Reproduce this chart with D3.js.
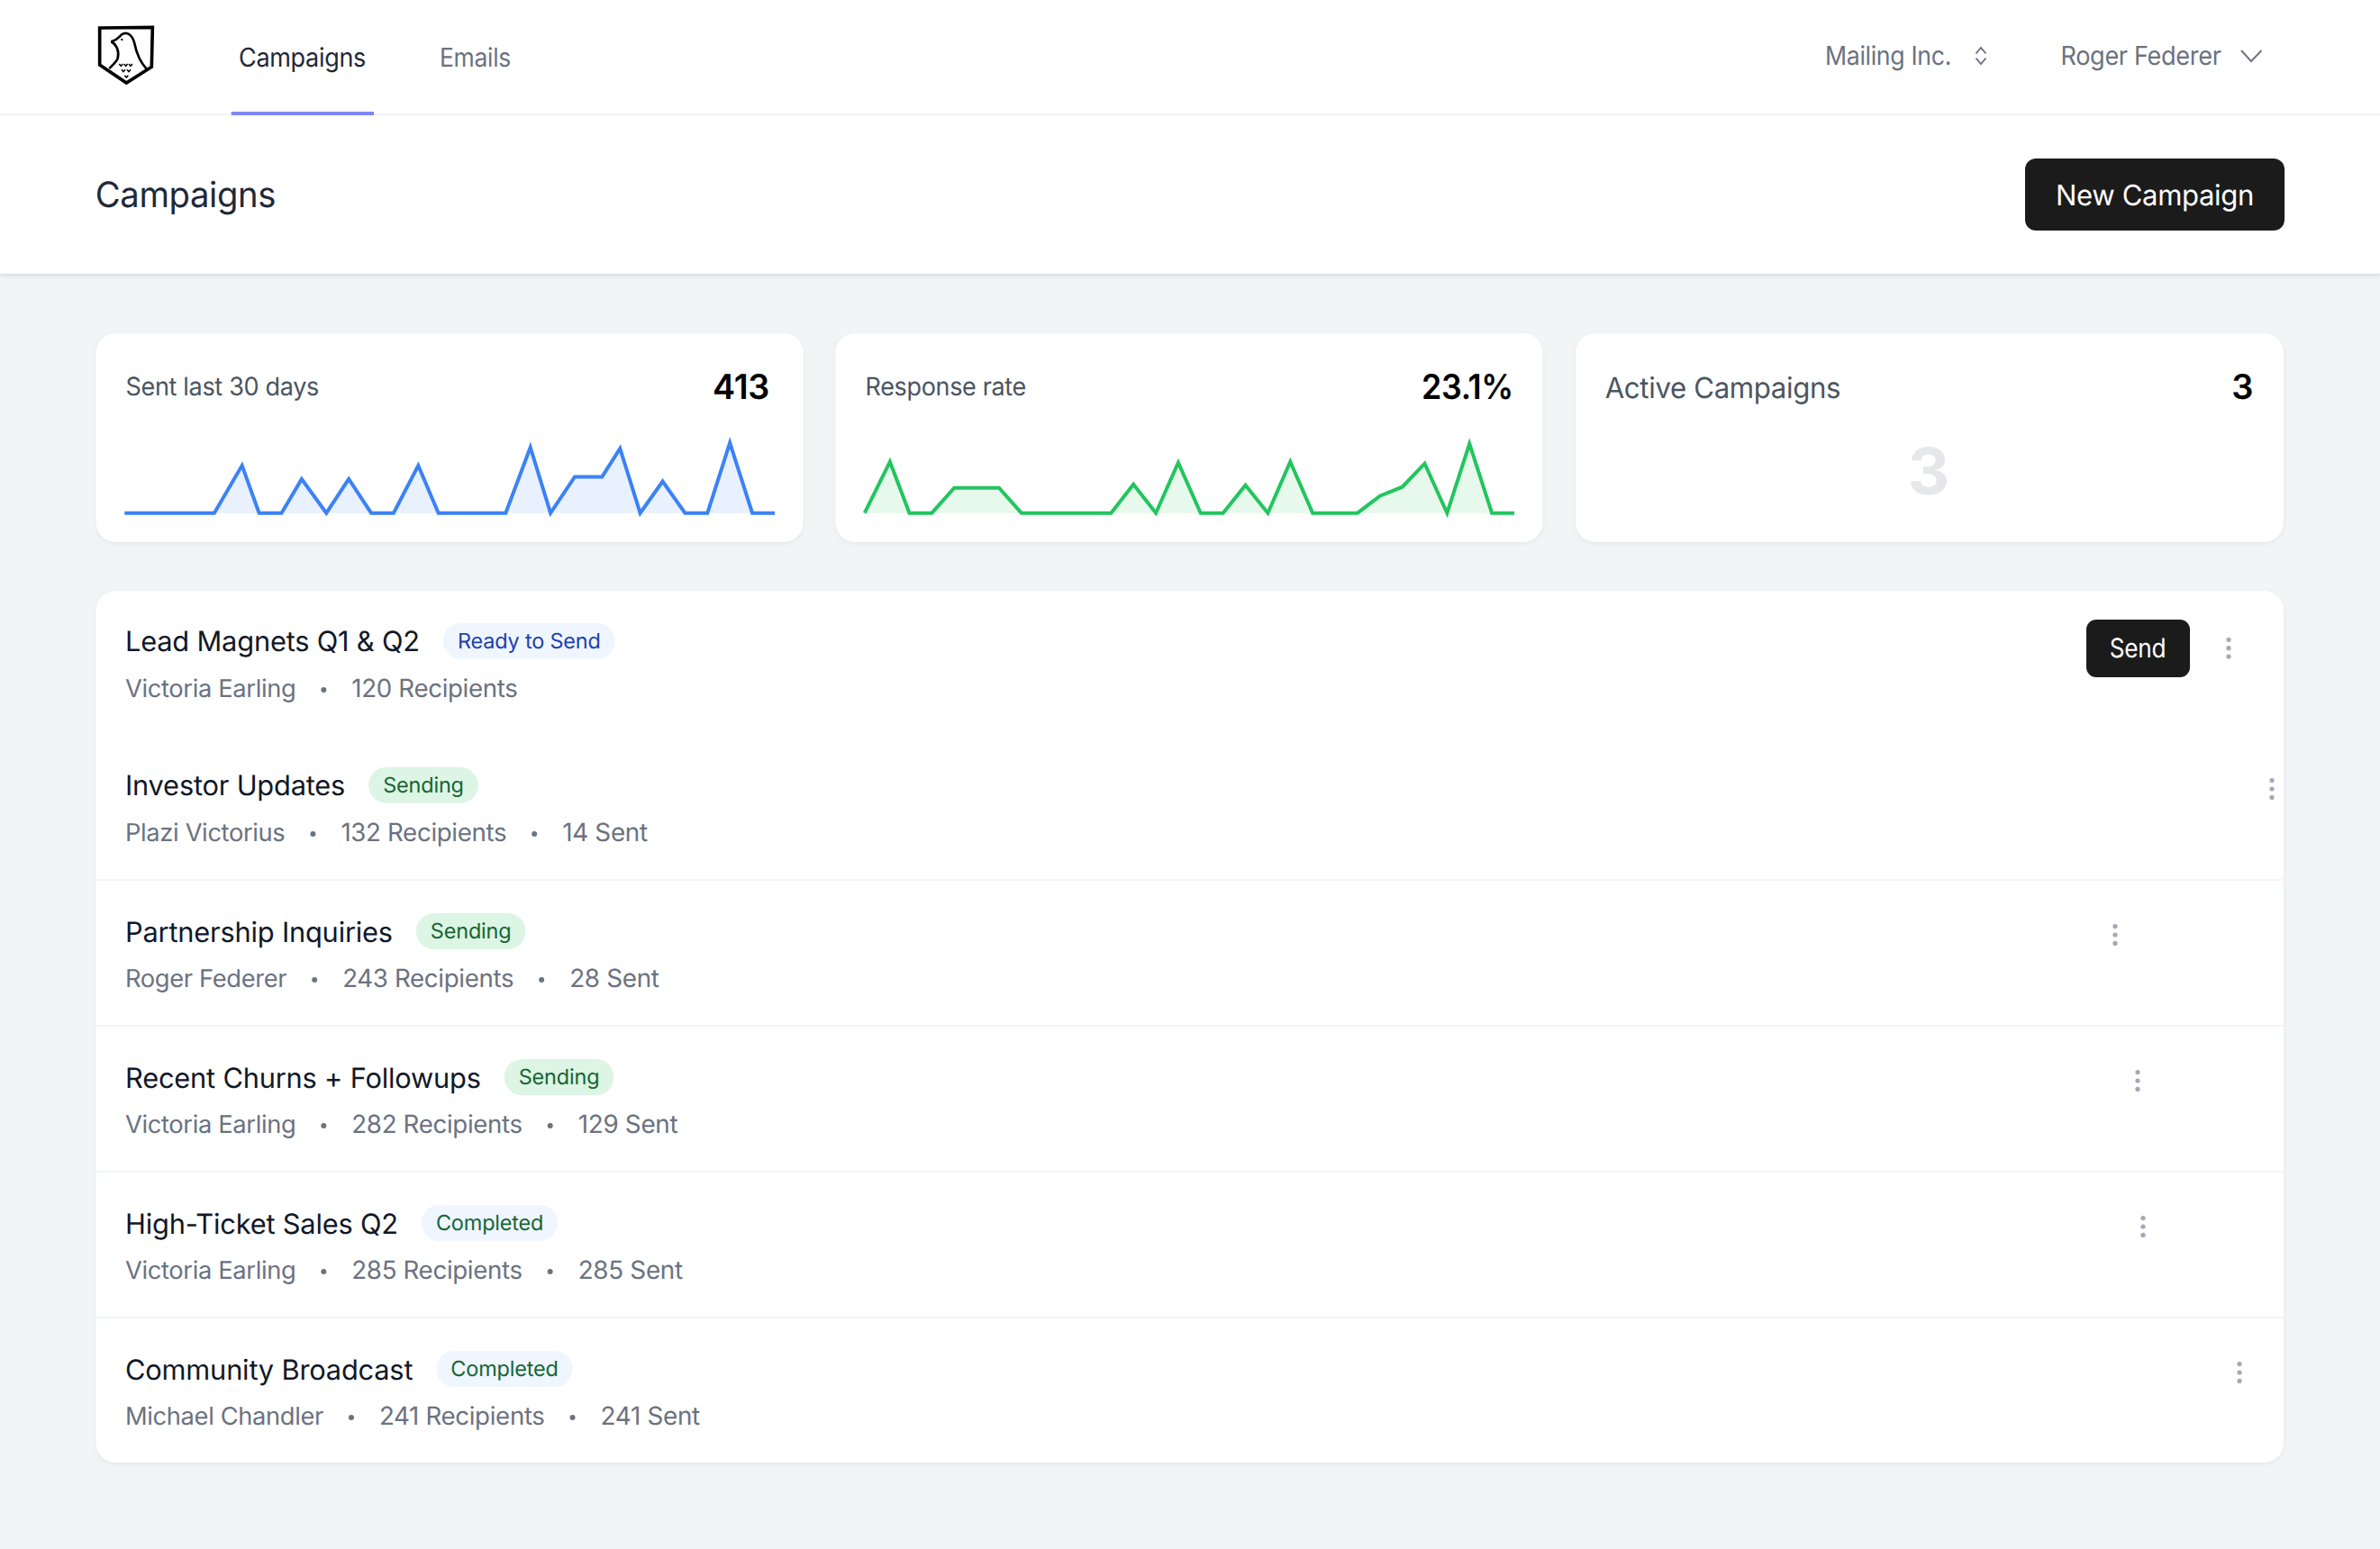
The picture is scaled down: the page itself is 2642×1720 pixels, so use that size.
<!DOCTYPE html>
<html><head><meta charset="utf-8">
<script src="https://cdn.jsdelivr.net/npm/d3@7"></script>
<style>html,body{margin:0;padding:0;background:#f1f5f6}svg{display:block}text{font-family:Inter,"Noto Sans",sans-serif;text-rendering:geometricPrecision}</style>
</head><body><div id="app"></div>
<script>
// ---- data ----
const navLinks = ["Campaigns", "Emails"];
const pageTitle = "Campaigns";
const newButton = "New Campaign";
const orgName = "Mailing Inc.";
const userName = "Roger Federer";
const statLabels = ["Sent last 30 days", "Response rate", "Active Campaigns"];
const statValues = ["413", "23.1%", "3"];
const sentDays = [0,1,2,3,4,5.24,6,7,7.9,9,10,11,12,13.1,14,15,16,17,18.1,19,20.08,21.3,22.1,23,24,25,26,27,28,29];
const sentValues = [0,0,0,0,0,42,0,0,30,0,30,0,0,42,0,0,0,0,58,0,32,32,57,0,28,0,0,62,0,0];
const responseDays = [0,1.13,2,3,4,5,6,7,8,9,10,11,12,13,14,15,16,17,18,19,20,21,22,23,24,25,26,27,28,29];
const responseValues = [0,28.5,0,0,14,14,14,0,0,0,0,0,16,0,28,0,0,15.5,0,28.5,0,0,0,9.5,14.5,27.5,0,38.5,0,0];
const campaignNames = ["Lead Magnets Q1 & Q2","Investor Updates","Partnership Inquiries","Recent Churns + Followups","High-Ticket Sales Q2","Community Broadcast"];
const campaignStatus = ["Ready to Send","Sending","Sending","Sending","Completed","Completed"];
const campaignOwners = ["Victoria Earling","Plazi Victorius","Roger Federer","Victoria Earling","Victoria Earling","Michael Chandler"];
const campaignRecipients = [120,132,243,282,285,241];
const campaignSent = [null,14,28,129,285,241];

// ---- layout ----
const W = 2642, H = 1720;
const rowTitleY = [723.3,883.3,1045.5,1207.5,1369.5,1531.5];
const rowSubY = [774,934,1096,1258,1420,1582];
const menuX = [2474,2522,2348,2373,2379,2486];
const menuY = [719.7,876,1038,1200,1362,1524];
const statusStyle = {"Ready to Send":["#eff6ff","#1e40af"],"Sending":["#dcf5e4","#166534"],"Completed":["#eff6ff","#166534"]};
const F = {nav:29,title:39,btn:31.5,stat:28,statLg:32,num:38,row:30.8,sub:[27.3,27.7,27.9],badge:23.5};

const svg = d3.select("#app").append("svg").attr("width",W).attr("height",H).attr("viewBox",`0 0 ${W} ${H}`);
const defs = svg.append("defs");
const shadow = (id,dy,sd,op)=>{const f=defs.append("filter").attr("id",id).attr("x","-5%").attr("y","-10%").attr("width","110%").attr("height","125%");
  f.append("feDropShadow").attr("dx",0).attr("dy",dy).attr("stdDeviation",sd).attr("flood-color","#000").attr("flood-opacity",op);};
shadow("card",2,2.5,0.05); shadow("bar",1.5,2.5,0.14);

function text(p,s,x,y,size,fill,o={}){
  const t=p.append("text").attr("x",x).attr("y",y).attr("font-size",size).attr("fill",fill)
    .attr("font-weight",o.w||400).attr("text-anchor",o.a||"start").attr("letter-spacing",o.ls==null?-0.35:o.ls).text(s);
  if(o.fit){t.attr("textLength",o.fit).attr("lengthAdjust","spacingAndGlyphs");}
  return t;
}
const len = t=>t.node().getComputedTextLength();

svg.append("rect").attr("width",W).attr("height",H).attr("fill","#f1f5f6");
// header band
svg.append("rect").attr("width",W).attr("height",304).attr("fill","#fff").attr("filter","url(#bar)");
svg.append("rect").attr("y",126).attr("width",W).attr("height",2).attr("fill","#f1f4f5");
svg.append("rect").attr("x",256.7).attr("y",124).attr("width",158.3).attr("height",4).attr("fill","#8088f6");

// logo
const logo = svg.append("g").attr("transform","translate(90,10) scale(0.3333)").attr("fill","none").attr("stroke","#000");
logo.append("path").attr("d","M62 63 L238 61 L235 193 L151 246 L62 186 Z").attr("stroke-width",11).attr("stroke-linejoin","miter");
logo.append("path").attr("stroke-width",8).attr("d","M100 108 C115 106 125 96 135 85 C155 72 172 90 178 115 C185 150 198 178 218 200");
logo.append("path").attr("stroke-width",8).attr("d","M100 108 C118 118 128 140 122 165 C116 178 106 186 94 198");
logo.append("circle").attr("cx",136).attr("cy",102).attr("r",3.5).attr("fill","#000").attr("stroke","none");
logo.append("path").attr("stroke-width",4.5).attr("d","M127 183 l6 7 6-7 M143 183 l6 7 6-7 M159 183 l6 7 6-7 M135 202 l6 7 6-7 M153 202 l6 7 6-7 M145 221 l6 7 6-7");

// nav
text(svg,navLinks[0],265,73.6,F.nav,"#1f2937",{fit:141});
text(svg,navLinks[1],488,73.6,F.nav,"#6b7280",{fit:79});
text(svg,orgName,2026,71.7,F.nav,"#6b7280",{fit:140});
text(svg,userName,2287.5,71.7,F.nav,"#6b7280",{fit:178});
const ic = svg.append("g").attr("fill","none").attr("stroke","#6b7280").attr("stroke-width",1.9).attr("stroke-linejoin","miter");
ic.append("path").attr("d","M2193.5 59.5 L2199 53 L2204.5 59.5 M2193.5 64.5 L2199 71 L2204.5 64.5");
ic.append("path").attr("d","M2488 56 L2499 68 L2510.5 56");

// page header
text(svg,pageTitle,105.7,229.5,F.title,"#1f2937",{fit:200.5});
svg.append("rect").attr("x",2248).attr("y",176).attr("width",288).attr("height",80).attr("rx",12).attr("fill","#1b1b1b");
text(svg,newButton,2282,227.8,F.btn,"#fff",{fit:220});

// stat cards
const cards=[[106.7,785],[927.5,785],[1749,786]];
cards.forEach(c=>svg.append("rect").attr("x",c[0]).attr("y",370).attr("width",c[1]).attr("height",232).attr("rx",22).attr("fill","#fff").attr("filter","url(#card)"));
text(svg,statLabels[0],139.5,439,F.stat,"#4b5563",{fit:214.5});
text(svg,statLabels[1],960.5,439,F.stat,"#4b5563",{fit:178.5});
text(svg,statLabels[2],1781.7,441.7,F.statLg,"#4b5563",{fit:261.5});
text(svg,statValues[0],791,443,F.num,"#000",{w:600,fit:63});
text(svg,statValues[1],1578,443,F.num,"#000",{w:600,fit:102});
text(svg,statValues[2],2501.5,443,F.num,"#000",{w:600,a:"end",ls:0});
text(svg,statValues[2],2141,549,72,"#e5e7eb",{w:700,a:"middle",ls:0});

// sparklines
function spark(days,vals,x0,x1,maxY,color){
  const x=d3.scaleLinear().domain([0,29]).range([x0,x1]);
  const y=d3.scaleLinear().domain([0,d3.max(vals)]).range([569.7,maxY]);
  const pts=vals.map((v,i)=>[days[i],v]);
  svg.append("path").datum(pts).attr("fill",color).attr("fill-opacity",0.11)
    .attr("d",d3.area().x(d=>x(d[0])).y0(y(0)).y1(d=>y(d[1])));
  svg.append("path").datum(pts).attr("fill","none").attr("stroke",color).attr("stroke-width",4)
    .attr("stroke-linejoin","miter").attr("stroke-miterlimit",10)
    .attr("d",d3.line().x(d=>x(d[0])).y(d=>y(d[1])));
}
spark(sentDays,sentValues,138.3,860,491.7,"#3b82f6");
spark(responseDays,responseValues,959.8,1681,492.7,"#22c55e");

// list card
svg.append("rect").attr("x",106.7).attr("y",656).attr("width",2428.3).attr("height",968).attr("rx",22).attr("fill","#fff").attr("filter","url(#card)");
[977,1139,1301,1463].forEach(y=>svg.append("rect").attr("x",106.7).attr("y",y-1).attr("width",2428.3).attr("height",2).attr("fill","#f3f5f7"));

campaignNames.forEach((name,i)=>{
  const g=svg.append("g");
  const t=text(g,name,139,rowTitleY[i],F.row,"#111827",{ls:-0.2});
  const bx=139+len(t)+26;
  const st=campaignStatus[i], [bg,fg]=statusStyle[st];
  const b=g.append("rect").attr("x",bx).attr("y",rowTitleY[i]-31.5).attr("height",40).attr("rx",20).attr("fill",bg);
  const bt=text(g,st,bx+16,rowTitleY[i]-3.8,F.badge,fg,{ls:-0.2});
  b.attr("width",len(bt)+32);
  let x=139;
  const parts=[campaignOwners[i],campaignRecipients[i]+" Recipients"];
  if(campaignSent[i]!=null) parts.push(campaignSent[i]+" Sent");
  parts.forEach((p,k)=>{
    const s=text(g,p,x,rowSubY[i],F.sub[k],"#6b7280");
    x+=len(s);
    if(k<parts.length-1){
      g.append("circle").attr("cx",x+31).attr("cy",rowSubY[i]-8).attr("r",3).attr("fill","#6b7280");
      x+=62;
    }
  });
  [-9.4,0,9.4].forEach(d=>g.append("circle").attr("cx",menuX[i]).attr("cy",menuY[i]+d).attr("r",2.6).attr("fill","#a5a7b8"));
});
svg.append("rect").attr("x",2316).attr("y",688).attr("width",115).attr("height",64).attr("rx",11).attr("fill","#1b1b1b");
text(svg,"Send",2341.7,729.8,29.5,"#fff",{fit:62.5});
</script></body></html>
